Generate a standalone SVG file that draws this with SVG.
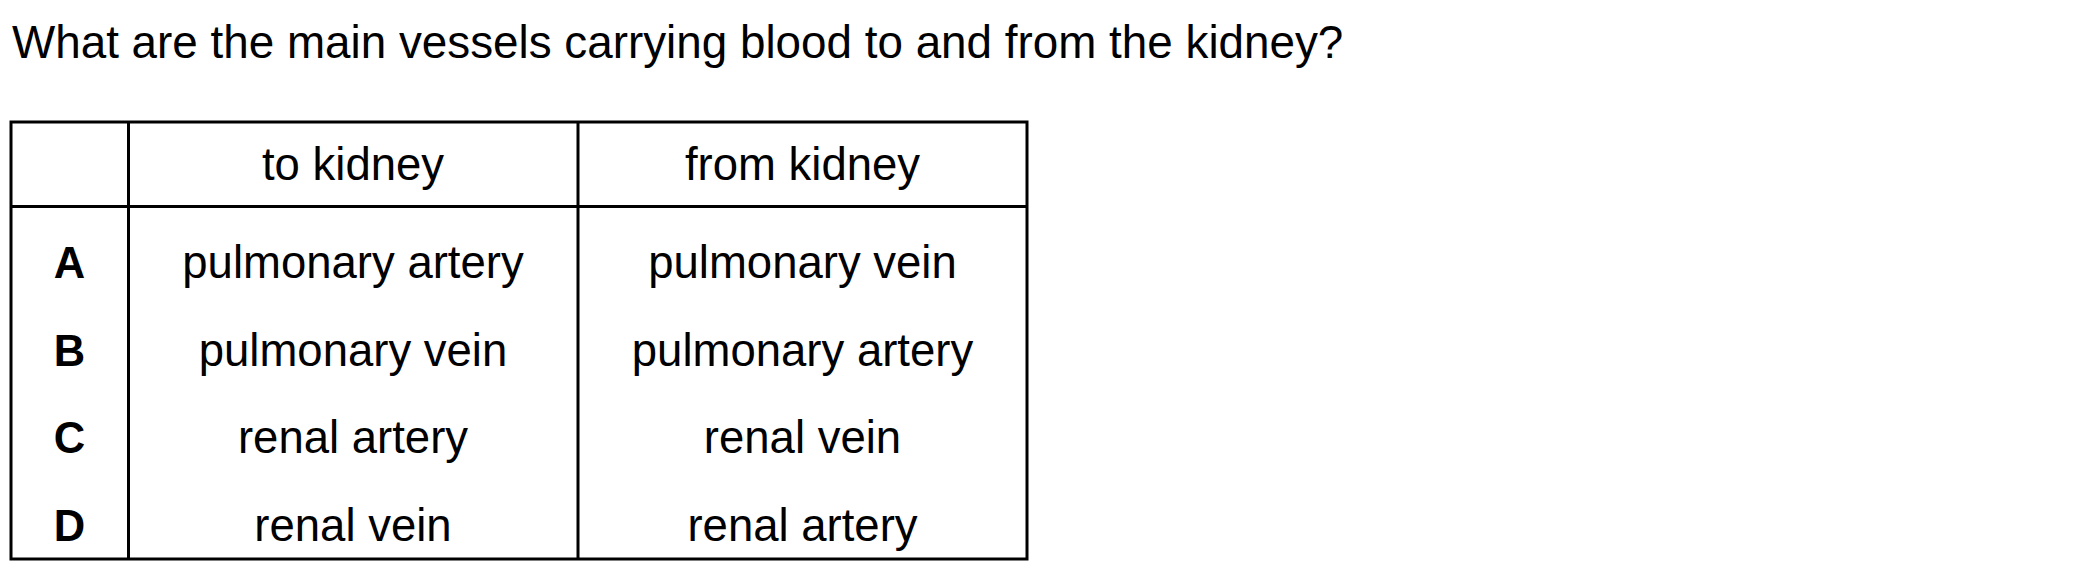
<svg xmlns="http://www.w3.org/2000/svg" width="2100" height="576" viewBox="0 0 2100 576">
  <style>
    text { font-family: "Liberation Sans", Arial, sans-serif; font-size: 45.5px; fill: #000; }
    .q { font-size: 45.8px; }
    .c { text-anchor: middle; }
    .b { font-weight: bold; font-size: 43.5px; }
    .ln { stroke: #000; stroke-width: 3; fill: none; }
  </style>
  <rect width="2100" height="576" fill="#fff"/>
  <g id="question">
    <text class="q" x="12" y="58">What are the main vessels carrying blood to and from the kidney?</text>
  </g>
  <g id="table-lines">
    <rect class="ln" x="11" y="122" width="1016" height="437"/>
    <line class="ln" x1="128.5" y1="122" x2="128.5" y2="559"/>
    <line class="ln" x1="578" y1="122" x2="578" y2="559"/>
    <line class="ln" x1="11" y1="206.5" x2="1027" y2="206.5"/>
  </g>
  <g id="header">
    <text class="c" x="353" y="180">to kidney</text>
    <text class="c" x="802.5" y="180">from kidney</text>
  </g>
  <g id="rowA">
    <text class="c b" x="69.5" y="278">A</text>
    <text class="c" x="353" y="278">pulmonary artery</text>
    <text class="c" x="802.5" y="278">pulmonary vein</text>
  </g>
  <g id="rowB">
    <text class="c b" x="69.5" y="365.5">B</text>
    <text class="c" x="353" y="365.5">pulmonary vein</text>
    <text class="c" x="802.5" y="365.5">pulmonary artery</text>
  </g>
  <g id="rowC">
    <text class="c b" x="69.5" y="453">C</text>
    <text class="c" x="353" y="453">renal artery</text>
    <text class="c" x="802.5" y="453">renal vein</text>
  </g>
  <g id="rowD">
    <text class="c b" x="69.5" y="540.5">D</text>
    <text class="c" x="353" y="540.5">renal vein</text>
    <text class="c" x="802.5" y="540.5">renal artery</text>
  </g>
</svg>
